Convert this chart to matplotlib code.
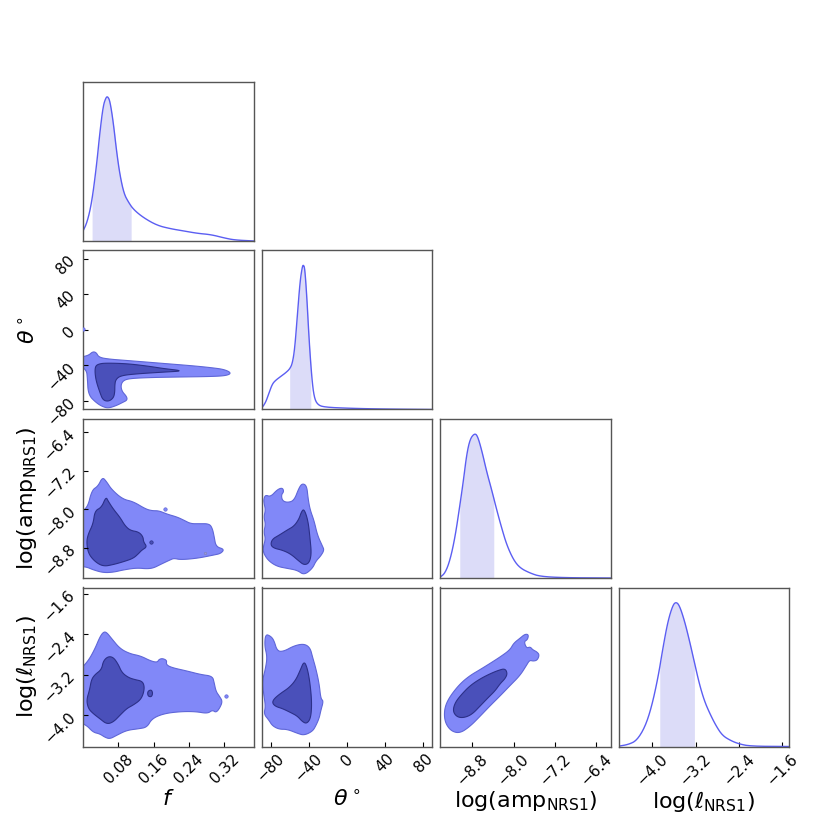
import numpy as np
import matplotlib
matplotlib.use('Agg')
import matplotlib.pyplot as plt

# parameter names, plot ranges and ticks
labels = [r'$f$', r'$\theta^\circ$', r'log(amp$_{\rm NRS1}$)', r'log($\ell_{\rm NRS1}$)']
ranges = [(0.0, 0.386), (-89.5, 89.0), (-9.43, -6.12), (-4.62, -1.48)]
ticks = [[0.08, 0.16, 0.24, 0.32], [-80, -40, 0, 40, 80],
         [-8.8, -8.0, -7.2, -6.4], [-4.0, -3.2, -2.4, -1.6]]

# 1D marginals (peak normalised to 1) and shaded interval
f_x = [-0.001, 0.0096, 0.0199, 0.0306, 0.0382, 0.0457, 0.0519, 0.0558, 0.061, 0.0686, 0.0763,
       0.0839, 0.093, 0.1029, 0.1143, 0.137, 0.1678, 0.198, 0.229, 0.259, 0.290, 0.320, 0.343, 0.388]
f_d = [0.062, 0.131, 0.269, 0.521, 0.751, 0.935, 0.992, 1.0, 0.969, 0.820, 0.613,
       0.452, 0.326, 0.269, 0.218, 0.161, 0.108, 0.085, 0.069, 0.053, 0.044, 0.021, 0.007, 0.0]
f_band = (0.0206, 0.109)

th_x = [-89.5, -85.3, -81.8, -78.2, -74.7, -69.5, -64.2, -60.0, -57.2, -54.7, -51.9, -49.1,
        -46.7, -45.6, -44.2, -42.1, -39.6, -36.8, -34.4, -30.9, -23.9, 4.2, 39.3, 89.0]
th_d = [0.008, 0.047, 0.111, 0.176, 0.202, 0.228, 0.254, 0.280, 0.318, 0.422, 0.655, 0.888,
        0.991, 1.0, 0.978, 0.784, 0.474, 0.215, 0.085, 0.034, 0.016, 0.008, 0.003, 0.0]
th_band = (-60.0, -37.9)

amp_x = [-9.43, -9.33, -9.233, -9.136, -9.039, -8.975, -8.91, -8.845, -8.761, -8.703, -8.619,
         -8.522, -8.425, -8.328, -8.231, -8.134, -8.004, -7.875, -7.681, -7.487, -7.034, -6.12]
amp_d = [0.005, 0.034, 0.126, 0.286, 0.516, 0.676, 0.859, 0.962, 1.0, 0.985, 0.882,
         0.733, 0.607, 0.470, 0.344, 0.229, 0.126, 0.069, 0.034, 0.011, 0.002, 0.0]
amp_band = (-9.046, -8.386)

ell_x = [-4.62, -4.437, -4.286, -4.134, -4.012, -3.891, -3.80, -3.708, -3.617, -3.557, -3.496,
         -3.405, -3.313, -3.222, -3.131, -3.04, -2.949, -2.827, -2.706, -2.554, -2.402, -2.19, -1.48]
ell_d = [0.002, 0.014, 0.041, 0.133, 0.272, 0.479, 0.686, 0.870, 0.980, 1.0, 0.974,
         0.870, 0.732, 0.582, 0.433, 0.318, 0.237, 0.145, 0.076, 0.041, 0.018, 0.002, 0.0]
ell_band = (-3.86, -3.222)

marg_x = [f_x, th_x, amp_x, ell_x]
marg_d = [f_d, th_d, amp_d, ell_d]
marg_band = [f_band, th_band, amp_band, ell_band]

f_th_outer = [(-0.01, -31), (0.012, -29), (0.022, -24.5), (0.03, -25.5), (0.036, -31), (0.06, -33),
              (0.1, -34.5), (0.15, -36.5), (0.2, -38.5), (0.25, -40.5), (0.29, -42.5), (0.32, -44.5),
              (0.336, -48.5), (0.325, -51.5), (0.29, -52.5), (0.22, -53), (0.16, -53.5), (0.11, -54.5),
              (0.092, -56.5), (0.0855, -62), (0.088, -69), (0.099, -75), (0.1, -79), (0.09, -81.5),
              (0.076, -85), (0.058, -88), (0.045, -86.5), (0.03, -82), (0.012, -73), (0.01, -55),
              (0.008, -45), (-0.01, -40)]
f_th_inner = [(0.028, -41), (0.035, -38.5), (0.05, -37.3), (0.1, -38), (0.15, -41), (0.183, -43.6),
              (0.229, -46.2), (0.183, -47.5), (0.12, -49.5), (0.085, -51.5), (0.074, -56), (0.072, -62),
              (0.072, -70), (0.069, -76.5), (0.058, -80.5), (0.045, -79), (0.038, -70), (0.030, -58),
              (0.027, -48)]

f_amp_outer = [(-0.01, -8.06), (0.01, -7.98), (0.02, -7.6), (0.034, -7.52), (0.044, -7.33),
               (0.053, -7.42), (0.065, -7.59), (0.09, -7.79), (0.114, -7.84), (0.141, -7.99),
               (0.156, -8.03), (0.172, -8.03), (0.19, -8.1), (0.213, -8.16), (0.229, -8.23),
               (0.244, -8.30), (0.263, -8.30), (0.286, -8.30), (0.293, -8.40), (0.297, -8.57),
               (0.301, -8.78), (0.32, -8.83), (0.312, -8.92), (0.297, -8.95), (0.259, -9.02),
               (0.221, -9.05), (0.206, -9.02), (0.198, -9.05), (0.175, -9.15), (0.16, -9.22),
               (0.145, -9.24), (0.122, -9.22), (0.092, -9.26), (0.069, -9.31), (0.046, -9.32),
               (0.023, -9.26), (0.008, -9.2), (-0.01, -9.19)]
f_amp_inner = [(0.052, -7.74), (0.057, -7.83), (0.069, -8.0), (0.084, -8.17), (0.095, -8.34),
               (0.107, -8.44), (0.126, -8.47), (0.136, -8.57), (0.137, -8.68), (0.145, -8.78),
               (0.133, -8.85), (0.126, -8.92), (0.114, -9.02), (0.092, -9.09), (0.069, -9.15),
               (0.046, -9.19), (0.027, -9.09), (0.012, -8.92), (0.008, -8.68), (0.012, -8.51),
               (0.023, -8.3), (0.027, -8.03), (0.042, -7.96)]

f_ell_outer = [(-0.01, -3.13), (0.012, -2.93), (0.027, -2.69), (0.038, -2.46), (0.046, -2.36),
               (0.053, -2.36), (0.065, -2.49), (0.084, -2.69), (0.107, -2.79), (0.13, -2.83),
               (0.153, -2.93), (0.168, -2.96), (0.172, -2.90), (0.18, -2.88), (0.19, -2.92),
               (0.188, -3.0), (0.2, -3.06), (0.236, -3.13), (0.267, -3.2), (0.293, -3.23),
               (0.297, -3.36), (0.301, -3.53), (0.309, -3.63), (0.316, -3.73), (0.309, -3.87),
               (0.301, -3.95), (0.293, -3.90), (0.282, -3.97), (0.255, -3.93), (0.221, -3.93),
               (0.183, -3.97), (0.156, -4.07), (0.145, -4.24), (0.126, -4.27), (0.099, -4.30),
               (0.076, -4.40), (0.061, -4.47), (0.05, -4.44), (0.038, -4.37), (0.023, -4.34),
               (0.008, -4.2), (-0.01, -4.14)]
f_ell_inner = [(0.057, -2.84), (0.069, -2.86), (0.08, -3.0), (0.088, -3.16), (0.103, -3.26),
               (0.118, -3.30), (0.134, -3.33), (0.139, -3.43), (0.137, -3.57), (0.13, -3.70),
               (0.114, -3.80), (0.099, -3.87), (0.084, -4.0), (0.069, -4.135), (0.054, -4.18),
               (0.038, -4.07), (0.023, -3.97), (0.012, -3.87), (0.008, -3.70), (0.015, -3.50),
               (0.019, -3.30), (0.027, -3.2), (0.042, -3.1), (0.046, -2.93)]
f_ell_inner2 = [(0.148, -3.52), (0.155, -3.50), (0.158, -3.57), (0.155, -3.64), (0.148, -3.63),
                (0.146, -3.57)]

th_amp_outer = [(-87, -7.78), (-85.3, -7.70), (-80, -7.74), (-73, -7.59), (-67.7, -7.55),
                (-66, -7.63), (-68.8, -7.70), (-67.7, -7.82), (-62.5, -7.86), (-55.4, -7.82),
                (-50.2, -7.55), (-46.7, -7.46), (-42.1, -7.51), (-40.7, -7.78), (-38.6, -8.01),
                (-34.4, -8.24), (-30.9, -8.54), (-25.6, -8.77), (-23.9, -8.85), (-27.4, -8.97),
                (-32.6, -9.08), (-36.1, -9.23), (-44.9, -9.37), (-51.9, -9.27), (-62.5, -9.23),
                (-73, -9.19), (-81.75, -9.08), (-87, -8.93), (-88, -8.81), (-85.3, -8.62),
                (-87, -8.47), (-85.3, -8.31), (-87, -8.16), (-85.3, -8.01), (-87, -7.86)]
th_amp_inner = [(-44.9, -7.99), (-40.7, -8.24), (-38.6, -8.62), (-37.2, -8.93), (-39.6, -9.12),
                (-44.9, -9.16), (-50.2, -9.08), (-58.9, -8.93), (-67.7, -8.85), (-76.5, -8.81),
                (-80, -8.74), (-78.2, -8.62), (-71.2, -8.54), (-62.5, -8.43), (-55.4, -8.35),
                (-50.2, -8.2), (-47.7, -8.05)]

th_ell_outer = [(-86.3, -2.63), (-85.3, -2.40), (-80, -2.44), (-76.5, -2.52), (-73, -2.74),
                (-66, -2.74), (-55.4, -2.63), (-44.9, -2.59), (-38.6, -2.67), (-36.1, -2.85),
                (-32.6, -3.08), (-29.1, -3.38), (-27.4, -3.68), (-24.6, -3.72), (-27.4, -3.91),
                (-29.1, -4.06), (-32.6, -4.21), (-36.1, -4.32), (-44.9, -4.40), (-51.9, -4.36),
                (-62.5, -4.28), (-71.2, -4.28), (-78.2, -4.21), (-81.75, -4.10), (-87, -3.98),
                (-85.3, -3.83), (-87, -3.61), (-88.8, -3.34), (-85.3, -3.08), (-83.5, -2.85)]
th_ell_inner = [(-44.9, -2.93), (-41.4, -3.08), (-38.6, -3.38), (-36.8, -3.76), (-37.9, -4.06),
                (-42.1, -4.17), (-46.7, -4.13), (-51.9, -4.02), (-58.9, -3.95), (-67.7, -3.87),
                (-74.7, -3.83), (-78.2, -3.76), (-76.5, -3.68), (-69.5, -3.57), (-60.7, -3.46),
                (-53.7, -3.31), (-49.1, -3.12)]

amp_ell_outer = [(-9.33, -3.82), (-9.23, -3.62), (-9.04, -3.38), (-8.85, -3.22), (-8.65, -3.10),
                 (-8.46, -2.98), (-8.26, -2.85), (-8.07, -2.71), (-8.0, -2.58), (-7.875, -2.48),
                 (-7.78, -2.40), (-7.71, -2.41), (-7.73, -2.51), (-7.80, -2.55), (-7.75, -2.68),
                 (-7.68, -2.65), (-7.63, -2.71), (-7.55, -2.75), (-7.50, -2.81), (-7.54, -2.915),
                 (-7.62, -2.935), (-7.69, -2.915), (-7.75, -3.015), (-7.875, -3.216),
                 (-8.07, -3.417), (-8.26, -3.618), (-8.46, -3.819), (-8.65, -4.021),
                 (-8.845, -4.222), (-9.04, -4.357), (-9.20, -4.323), (-9.31, -4.189), (-9.35, -4.02)]
amp_ell_inner = [(-8.166, -3.08), (-8.121, -3.18), (-8.166, -3.28), (-8.263, -3.38), (-8.36, -3.52),
                 (-8.49, -3.65), (-8.651, -3.82), (-8.813, -3.99), (-8.975, -4.055), (-9.104, -4.035),
                 (-9.182, -3.92), (-9.136, -3.75), (-9.007, -3.585), (-8.845, -3.417),
                 (-8.651, -3.284), (-8.457, -3.183), (-8.295, -3.115)]

# (row, col) -> list of (outline, level)
regions = {
    (1, 0): [(f_th_outer, 0), (f_th_inner, 1)],
    (2, 0): [(f_amp_outer, 0), (f_amp_inner, 1)],
    (3, 0): [(f_ell_outer, 0), (f_ell_inner, 1), (f_ell_inner2, 1)],
    (2, 1): [(th_amp_outer, 0), (th_amp_inner, 1)],
    (3, 1): [(th_ell_outer, 0), (th_ell_inner, 1)],
    (3, 2): [(amp_ell_outer, 0), (amp_ell_inner, 1)],
}
# isolated specks (row, col, x, y, level)
specks = [(1, 0, 0.001, 1.0, 0), (2, 0, 0.185, -7.995, 0), (2, 0, 0.1547, -8.69, 1),
          (2, 0, 0.276, -8.915, 2), (3, 0, 0.324, -3.62, 0)]

fill_cols = ['#8188f8', '#4a50ba', '#9a9ad8']
edge_cols = ['#5f66d8', '#2c3088', '#8080c0']
line_col = '#5b5ef2'
band_col = '#dcdcf8'


def chaikin(pts, n=3, closed=True):
    p = np.asarray(pts, dtype=float)
    for _ in range(n):
        q = np.roll(p, -1, axis=0) if closed else p[1:]
        a = p if closed else p[:-1]
        new = np.empty((2 * len(a), 2))
        new[0::2] = 0.75 * a + 0.25 * q
        new[1::2] = 0.25 * a + 0.75 * q
        if not closed:
            new = np.vstack([p[:1], new, p[-1:]])
        p = new
    return p


fig = plt.figure(figsize=(8.3, 8.3), dpi=100)
W, H = 830.0, 830.0
col_left = [83, 261.5, 440, 618.5]
row_top = [82, 250.5, 419, 587.5]
aw, ah = 170.5, 159

axes = {}
for r in range(4):
    for c in range(r + 1):
        ax = fig.add_axes([col_left[c] / W, 1 - (row_top[r] + ah) / H, aw / W, ah / H])
        axes[(r, c)] = ax
        for s in ax.spines.values():
            s.set_color('#555555')
            s.set_linewidth(1.0)
        ax.tick_params(direction='in', length=3.5, width=0.8, color='k', labelsize=11)
        ax.set_xlim(ranges[c])
        ax.set_xticks(ticks[c])
        if r == c:
            x, d = chaikin(np.column_stack([marg_x[c], marg_d[c]]), 2, closed=False).T
            ax.plot(x, d, color=line_col, lw=1.0)
            lo, hi = marg_band[c]
            xb = np.linspace(lo, hi, 300)
            ax.fill_between(xb, 0, np.interp(xb, x, d), color=band_col, lw=0)
            ax.set_ylim(0, 1.1)
            ax.set_yticks([])
        else:
            for outline, lev in regions[(r, c)]:
                px, py = chaikin(outline, 3).T
                ax.fill(px, py, facecolor=fill_cols[lev], edgecolor=edge_cols[lev], lw=0.8)
            ax.set_ylim(ranges[r])
            ax.set_yticks(ticks[r])
        if r < 3:
            ax.tick_params(axis='x', bottom=False, labelbottom=False)
        else:
            ax.tick_params(axis='x', labelrotation=45)
            ax.set_xlabel(labels[c], fontsize=16)
            ax.xaxis.set_label_coords(0.5, -0.27)
        if c > 0 or r == c:
            ax.tick_params(axis='y', left=False, labelleft=False)
        else:
            ax.tick_params(axis='y', labelrotation=45)
            ax.set_ylabel(labels[r], fontsize=16)
            ax.yaxis.set_label_coords(-0.26, 0.5)

for r, c, x, y, lev in specks:
    size = 6 if lev != 2 else 3
    axes[(r, c)].scatter([x], [y], s=size, color=fill_cols[lev], edgecolors=edge_cols[lev],
                         linewidths=0.5, zorder=3)

plt.savefig('out.png', dpi=100)
